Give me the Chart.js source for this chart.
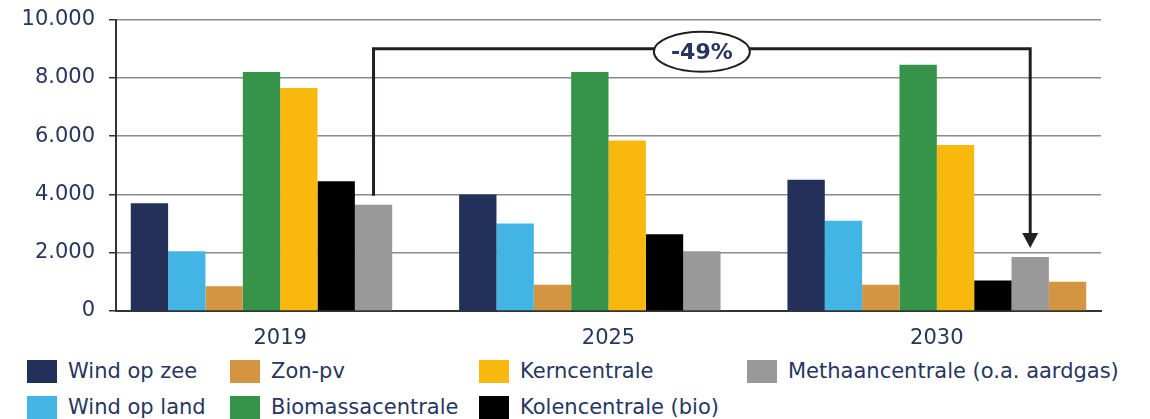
<!DOCTYPE html>
<html>
<head>
<meta charset="utf-8">
<script src="https://cdn.jsdelivr.net/npm/chart.js@4"></script>
<style>
  body { margin: 0; background: #fff; font-family: "DejaVu Sans", Verdana, sans-serif; }
  #wrap { position: relative; width: 1150px; height: 419px; overflow: hidden; }
  #chartBox { position: absolute; left: 0; top: -7px; width: 1150px; height: 357px; }
  .leg { position: absolute; display: flex; align-items: center; font-size: 21px; color: #27365f; white-space: nowrap; }
  .leg .sw { width: 30px; height: 23px; margin-right: 11px; flex: none; }
</style>
</head>
<body>
<div id="wrap">
  <div id="chartBox"><canvas id="c"></canvas></div>
  <div id="legend"></div>
</div>
<script>
// ── Data ─────────────────────────────────────────────────────
const YEARS = ['2019', '2025', '2030'];

const SERIES = ['Wind op zee', 'Wind op land', 'Zon-pv', 'Biomassacentrale',
                'Kerncentrale', 'Kolencentrale (bio)', 'Methaancentrale (o.a. aardgas)', ''];
const COLORS = ['#22305a', '#42b5e5', '#d39542', '#35944a', '#f9b80e', '#000000', '#999999', '#d39542'];

const windZee   = [3700, 4000, 4500];
const windLand  = [2050, 3000, 3100];
const zonPv     = [850, 900, 900];
const biomassa  = [8200, 8200, 8450];
const kern      = [7650, 5850, 5700];
const kolen     = [4450, 2630, 1050];
const methaan   = [3650, 2050, 1850];
const extraZon  = [null, null, 1000];

const Y_TICKS = [0, 2000, 4000, 6000, 8000, 10000];
const BRACKET_LEVEL = 9000;
const BRACKET_LABEL = '-49%';

// legend is laid out column-wise (2 rows)
const LEGEND_ORDER = [0, 2, 4, 6, 1, 3, 5];
const TEXT = '#27365f';

// ── Bracket annotation ───────────────────────────────────────
const bracketPlugin = {
  id: 'bracket',
  afterDatasetsDraw(chart) {
    const meta = chart.getDatasetMeta(6);
    const b0 = meta.data[0], b2 = meta.data[2];
    const yTop = chart.scales.y.getPixelForValue(BRACKET_LEVEL);
    const gap = 9, head = 15;
    const ctx = chart.ctx;
    ctx.save();
    ctx.strokeStyle = '#231f20';
    ctx.fillStyle = '#231f20';
    ctx.lineWidth = 3;
    ctx.beginPath();
    ctx.moveTo(b0.x, b0.y - gap);
    ctx.lineTo(b0.x, yTop);
    ctx.lineTo(b2.x, yTop);
    ctx.lineTo(b2.x, b2.y - gap - head);
    ctx.stroke();
    ctx.beginPath();
    ctx.moveTo(b2.x - 8, b2.y - gap - head);
    ctx.lineTo(b2.x + 8, b2.y - gap - head);
    ctx.lineTo(b2.x, b2.y - gap);
    ctx.closePath();
    ctx.fill();

    const cx = (b0.x + b2.x) / 2, cy = yTop + 3;
    ctx.beginPath();
    ctx.ellipse(cx, cy, 48, 20, 0, 0, Math.PI * 2);
    ctx.fillStyle = '#fff';
    ctx.fill();
    ctx.lineWidth = 2;
    ctx.stroke();
    ctx.fillStyle = TEXT;
    ctx.font = 'bold 22px "DejaVu Sans"';
    ctx.textAlign = 'center';
    ctx.textBaseline = 'middle';
    ctx.fillText(BRACKET_LABEL, cx, cy + 2);
    ctx.restore();
  }
};

// ── Chart ────────────────────────────────────────────────────
const values = [windZee, windLand, zonPv, biomassa, kern, kolen, methaan, extraZon];

new Chart(document.getElementById('c'), {
  type: 'bar',
  data: {
    labels: YEARS,
    datasets: values.map((d, i) => ({
      label: SERIES[i],
      data: d,
      backgroundColor: COLORS[i],
      borderWidth: 0
    }))
  },
  options: {
    responsive: true,
    maintainAspectRatio: false,
    animation: false,
    categoryPercentage: 0.91,
    barPercentage: 1.0,
    layout: { padding: { left: 0, right: 49, top: 12, bottom: 0 } },
    plugins: { legend: { display: false }, tooltip: { enabled: false } },
    scales: {
      x: {
        grid: { display: false },
        border: { display: true, color: '#333', width: 2 },
        ticks: { color: TEXT, font: { family: 'DejaVu Sans', size: 21 }, padding: 7 },
        afterFit: s => { s.height = 39; }
      },
      y: {
        min: 0,
        max: 10000,
        afterBuildTicks: s => { s.ticks = Y_TICKS.map(v => ({ value: v })); },
        grid: { color: '#8a8a8a', lineWidth: 1.5, tickLength: 7, tickColor: '#333' },
        border: { display: true, color: '#333', width: 2 },
        ticks: {
          color: TEXT,
          font: { family: 'DejaVu Sans', size: 21 },
          padding: 14,
          callback: v => v.toLocaleString('de-DE')
        },
        afterFit: s => { s.width = 116; }
      }
    }
  },
  plugins: [bracketPlugin]
});

// ── Legend ───────────────────────────────────────────────────
const LEG_X = [27, 230, 479, 747];
const LEG_Y = [359, 395];
document.getElementById('legend').innerHTML = LEGEND_ORDER.map((si, k) => {
  const col = k < 4 ? k : k - 4;
  const row = k < 4 ? 0 : 1;
  return `<div class="leg" style="left:${LEG_X[col]}px;top:${LEG_Y[row]}px">
      <div class="sw" style="background:${COLORS[si]}"></div><span>${SERIES[si]}</span></div>`;
}).join('');
</script>
</body>
</html>
